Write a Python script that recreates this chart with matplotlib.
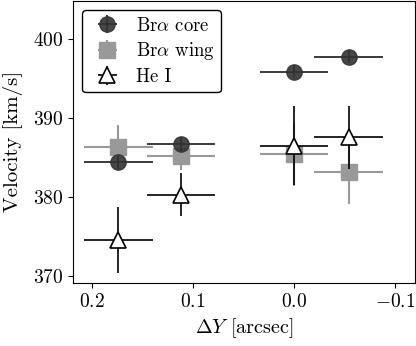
import matplotlib
matplotlib.use("Agg")
import matplotlib.pyplot as plt

plt.rcParams['font.family'] = 'serif'
plt.rcParams['font.serif'] = ['cmr10']
plt.rcParams['mathtext.fontset'] = 'cm'
plt.rcParams['axes.formatter.use_mathtext'] = True

# Data
x_pos = [0.174, 0.112, 0.0, -0.054]
x_err = [0.034, 0.034, 0.034, 0.034]
core_v = [384.4, 386.7, 395.9, 397.8]
core_err = [0.8, 0.8, 0.8, 0.8]
wing_v = [386.3, 385.2, 385.4, 383.2]
wing_err = [2.8, 1.8, 4.0, 4.1]
he_v = [374.6, 380.3, 386.5, 387.6]
he_err = [4.2, 2.7, 5.0, 4.0]

fig = plt.figure(figsize=(4.16, 3.46), dpi=100)
ax = fig.add_axes([0.175, 0.182, 0.823, 0.816])

ax.errorbar(x_pos, core_v, xerr=x_err, yerr=core_err, fmt='o', color='black',
            mfc='#333333', mec='#333333', ms=11, elinewidth=1.2, capsize=0,
            alpha=0.9, label=r'Br$\alpha$ core', zorder=3)
ax.errorbar(x_pos, wing_v, xerr=x_err, yerr=wing_err, fmt='s', color='#999999',
            mfc='#999999', mec='#999999', ms=11, elinewidth=1.5, capsize=0,
            label=r'Br$\alpha$ wing', zorder=2)
ax.errorbar(x_pos, he_v, xerr=x_err, yerr=he_err, fmt='^', color='black',
            mfc='white', mec='black', ms=11, mew=1.2, elinewidth=1.2, capsize=0,
            label='He I', zorder=4)

ax.set_xlim(0.219, -0.12)
ax.set_ylim(369.1, 404.9)
ax.set_xticks([0.2, 0.1, 0.0, -0.1])
ax.set_yticks([370, 380, 390, 400])
ax.tick_params(labelsize=14)
ax.set_xlabel(r'$\Delta Y$ [arcsec]', fontsize=14.5)
ax.set_ylabel('Velocity [km/s]', fontsize=15, labelpad=7)
ax.legend(loc='upper left', fontsize=13.5, frameon=True, edgecolor='black',
          fancybox=True, framealpha=1, handletextpad=0.5, borderaxespad=0.5,
          labelspacing=0.3, borderpad=0.35)

fig.savefig('out.png', dpi=100)
